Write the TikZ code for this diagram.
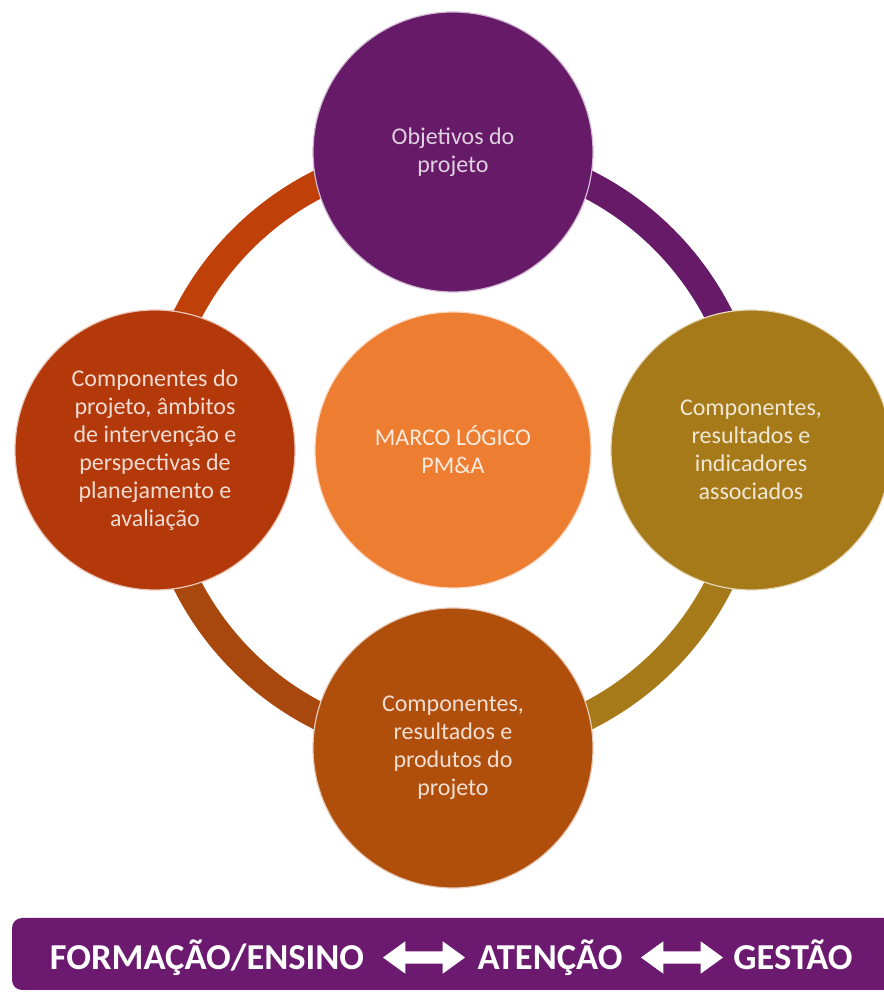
\documentclass[tikz,border=0pt]{standalone}
\usepackage{fontspec}
\setmainfont{Carlito}
\usetikzlibrary{shapes.arrows,backgrounds}
\definecolor{roxo}{RGB}{102,26,104}
\definecolor{telha}{RGB}{180,57,10}
\definecolor{ouro}{RGB}{166,122,24}
\definecolor{cobre}{RGB}{176,78,12}
\definecolor{laranja}{RGB}{237,125,49}
\definecolor{arcotelha}{RGB}{192,64,10}
\definecolor{arcocobre}{RGB}{168,72,14}
\definecolor{faixa}{RGB}{108,26,112}

\begin{document}
\begin{tikzpicture}[x=1pt,y=1pt,
  bola/.style={circle,minimum size=280pt,inner sep=0pt,align=center,
    font=\fontsize{24}{28}\selectfont,line width=1.2pt},
  seta/.style={double arrow,fill=white,minimum height=82pt,minimum width=32pt,
    inner sep=6pt,double arrow head extend=10pt,double arrow tip angle=72},
  palavra/.style={text=white,inner sep=0pt,anchor=base,
    font=\fontsize{36.5}{42}\selectfont\bfseries}]
\useasboundingbox (0,0) rectangle (883,992);
% circulos
\node[bola,fill=laranja,draw=white!70!laranja,text=white!85!laranja,minimum size=276pt] (marco) at (453,542) {MARCO LÓGICO\\PM\&A};
\node[bola,fill=roxo,draw=white!70!roxo,text=white!80!roxo] (obj) at (453,840) {Objetivos do\\projeto};
\node[bola,fill=telha,draw=white!70!telha,text=white!82!telha] (ambitos) at (155,542) {Componentes do\\projeto, âmbitos\\de intervenção e\\perspectivas de\\planejamento e\\avaliação};
\node[bola,fill=ouro,draw=white!70!ouro,text=white!82!ouro] (indic) at (751,542) {Componentes,\\resultados e\\indicadores\\associados};
\node[bola,fill=cobre,draw=white!70!cobre,text=white!82!cobre] (produtos) at (453,244) {Componentes,\\resultados e\\produtos do\\projeto};
% anel
\begin{scope}[on background layer]
\foreach \de/\ang/\cor in {obj/90/arcotelha,ambitos/180/arcocobre,produtos/270/ouro,indic/0/roxo}
  \draw[\cor,line width=28pt] (\de.center) arc[start angle=\ang,delta angle=90,radius=298];
\end{scope}
% faixa
\fill[faixa,rounded corners=10pt] (12,2) rectangle (900,74);
\node[palavra] (formacao) at (207,22) {FORMAÇÃO/ENSINO};
\node[seta] (seta1) at (424,34.5) {};
\node[palavra] (atencao) at (550,22) {ATENÇÃO};
\node[seta] (seta2) at (682,34.5) {};
\node[palavra] (gestao) at (793,22) {GESTÃO};
\end{tikzpicture}
\end{document}
